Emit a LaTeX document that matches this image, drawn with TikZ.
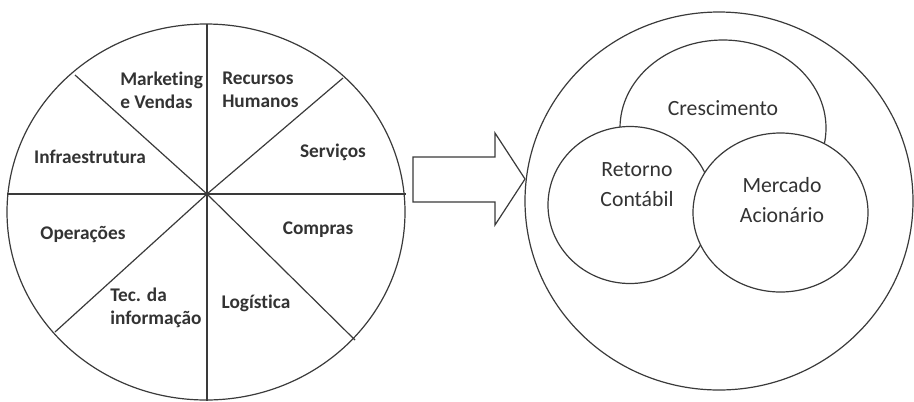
\documentclass[tikz,border=0pt]{standalone}
\usepackage{fontspec}
\setmainfont{Carlito}[Ligatures=NoCommon]
\definecolor{traco}{HTML}{3A3A3A}
\definecolor{texto}{HTML}{333333}
\begin{document}
\begin{tikzpicture}[
  x=0.75pt, y=-0.75pt,
  linha/.style={draw=traco, line width=0.9pt},
  setor/.style={text=texto, font=\bfseries\fontsize{14.5}{17.3}\selectfont, inner sep=0pt, align=left},
  bolha/.style={text=texto, font=\fontsize{16.3}{22.5}\selectfont, inner sep=0pt, align=center}
]
\useasboundingbox (0,0) rectangle (914,401);
% roda da cadeia de valor
\draw[linha] (206,212) ellipse [x radius=199, y radius=188];
\coordinate (centro) at (207,194);
\foreach \p in {(7,194),(406,194),(207,24),(207,401),(75,75),(343,78),(355,340),(55,332)}
  \draw[linha] (centro) -- \p;
\node[setor, anchor=west] (marketing) at (120,90) {Marketing\\e Vendas};
\node[setor, anchor=west] (rh) at (222,90) {Recursos\\Humanos};
\node[setor] (servicos) at (333,152) {Serviços};
\node[setor] (infra) at (90,157) {Infraestrutura};
\node[setor] (operacoes) at (83,235) {Operações};
\node[setor] (compras) at (318,230) {Compras};
\node[setor, anchor=west] (ti) at (110,308) {Tec. da\\informação};
\node[setor] (logistica) at (256,303) {Logística};
% seta
\draw[linha, fill=white] (413,157) -- (495,157) -- (495,133) -- (525,179)
  -- (495,225) -- (495,202) -- (413,202) -- cycle;
% medidas de desempenho
\draw[linha] (719,201) ellipse [x radius=194, y radius=189];
\draw[linha, fill=white] (723,128) ellipse [x radius=103, y radius=88];
\draw[linha, fill=white] (630,205) ellipse [x radius=82, y radius=78.5];
\draw[linha, fill=white] (780.5,212.5) ellipse [x radius=87.5, y radius=79.5];
\node[bolha] (crescimento) at (723,108) {Crescimento};
\node[bolha] (retorno) at (637,185) {Retorno\\Contábil};
\node[bolha] (mercado) at (782,200) {Mercado\\Acionário};
\end{tikzpicture}
\end{document}
